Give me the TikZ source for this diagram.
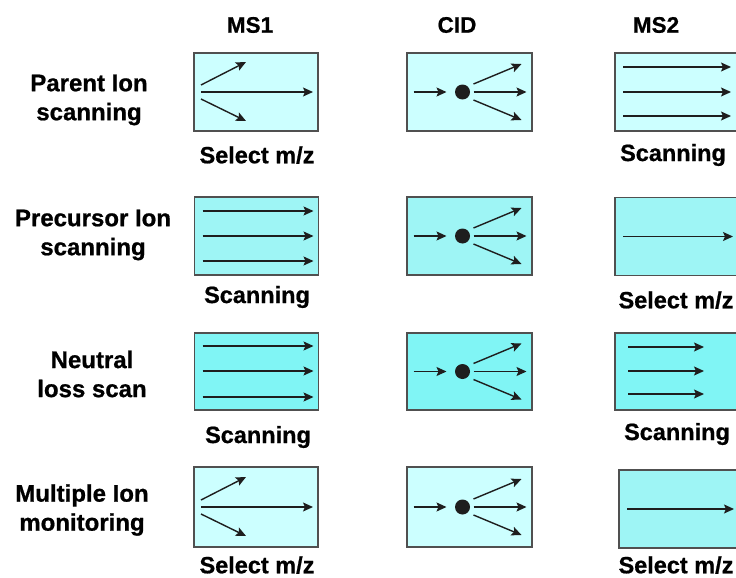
\documentclass[tikz,border=0pt]{standalone}
\usepackage{fontspec}
\setmainfont{Liberation Sans}
\newfontfamily\heavyfont{Liberation Sans Bold}[FakeBold=0.8]
\usetikzlibrary{arrows.meta}
\definecolor{cyanL}{RGB}{204,255,255}
\definecolor{cyanM}{RGB}{158,245,245}
\definecolor{cyanD}{RGB}{128,245,245}
\definecolor{edgegray}{RGB}{80,80,80}
\definecolor{ink}{RGB}{30,30,30}
\begin{document}
\begin{tikzpicture}[x=1pt,y=-1pt,
  panel/.style={draw=edgegray,line width=1.5pt,inner sep=0pt,minimum width=124pt,minimum height=78pt},
  ray/.style={draw=ink,line width=1.4pt,-{Stealth[length=10pt,width=9pt,inset=2pt]}},
  head/.style={font=\heavyfont\fontsize{22.5}{24}\selectfont},
  rowlab/.style={font=\heavyfont\fontsize{24}{29}\selectfont,align=center},
  sublab/.style={font=\heavyfont\fontsize{23.5}{26}\selectfont},
  fanpic/.pic={
    \draw[ray] (-55,-7) -- (-10,-30);
    \draw[ray] (-55,0) -- (57,0);
    \draw[ray] (-55,7) -- (-10,29);},
  cidpic/.pic={
    \draw[ray] (-56,0) -- (-23,0);
    \fill[ink] (-7,0) circle (7.5);
    \draw[ray] (4,-8) -- (52,-28);
    \draw[ray] (4,0) -- (57,0);
    \draw[ray] (4,8) -- (52,28);}
]
\useasboundingbox (0,0) rectangle (736,578);
\clip (0,0) rectangle (736,578);
\fill[white] (0,0) rectangle (736,578);

% headers
\node[head] (hms1) at (250,25) {MS1};
\node[head] (hcid) at (457,25) {CID};
\node[head] (hms2) at (656,25) {MS2};

% row labels
\node[rowlab] (l1) at (89,100) {Parent Ion\\scanning};
\node[rowlab] (l2) at (93,235) {Precursor Ion\\scanning};
\node[rowlab] (l3) at (92,374) {Neutral\\loss scan};
\node[rowlab] (l4) at (82,510) {Multiple Ion\\monitoring};

% row 1
\node[panel,fill=cyanL] (a1) at (256,92) {};
\node[panel,fill=cyanL,minimum width=125pt] (b1) at (469.5,92) {};
\node[panel,fill=cyanL,minimum width=130pt] (c1) at (680,92) {};
\pic at (a1) {fanpic};
\pic at (b1) {cidpic};
\begin{scope}[shift={(c1.center)}]
  \draw[ray] (-57,-25) -- (51,-25);
  \draw[ray] (-57,0) -- (51,0);
  \draw[ray] (-57,24) -- (51,24);
\end{scope}
\node[sublab] (s1a) at (257,155) {Select m/z};
\node[sublab] (s1c) at (673,155) {Scanning};

% row 2
\node[panel,fill=cyanM] (a2) at (256.5,236) {};
\node[panel,fill=cyanM,minimum width=125pt] (b2) at (469.5,236) {};
\node[panel,fill=cyanM,minimum width=130pt] (c2) at (680,236.5) {};
\begin{scope}[shift={(a2.center)}]
  \draw[ray] (-54,-25) -- (57,-25);
  \draw[ray] (-54,0) -- (57,0);
  \draw[ray] (-54,25) -- (57,25);
\end{scope}
\pic at (b2) {cidpic};
\begin{scope}[shift={(c2.center)}]
  \draw[ray] (-57,0) -- (53,0);
\end{scope}
\node[sublab] (s2c) at (676,300) {Select m/z};
\node[sublab] (s2a) at (257,297) {Scanning};

% row 3
\node[panel,fill=cyanD,minimum height=77pt] (a3) at (256.5,371.5) {};
\node[panel,fill=cyanD,minimum width=125pt,minimum height=77pt] (b3) at (469.5,371.5) {};
\node[panel,fill=cyanD,minimum width=130pt,minimum height=77pt] (c3) at (680,371.5) {};
\begin{scope}[shift={(a3.center)}]
  \draw[ray] (-54,-25.5) -- (57,-25.5);
  \draw[ray] (-54,-0.5) -- (57,-0.5);
  \draw[ray] (-54,25.5) -- (57,25.5);
\end{scope}
\pic at (b3) {cidpic};
\begin{scope}[shift={(c3.center)}]
  \draw[ray] (-52,-24.5) -- (24,-24.5);
  \draw[ray] (-52,-0.5) -- (24,-0.5);
  \draw[ray] (-52,22.5) -- (24,22.5);
\end{scope}
\node[sublab] (s3a) at (258,437) {Scanning};
\node[sublab] (s3c) at (677,434) {Scanning};

% row 4
\node[panel,fill=cyanL,minimum height=80pt] (a4) at (256,507) {};
\node[panel,fill=cyanL,minimum width=125pt,minimum height=80pt] (b4) at (469.5,507) {};
\node[panel,fill=cyanM,minimum width=126pt,minimum height=78pt] (c4) at (682,509) {};
\pic at (a4) {fanpic};
\pic at (b4) {cidpic};
\begin{scope}[shift={(c4.center)}]
  \draw[ray] (-55,0) -- (52,0);
\end{scope}
\node[sublab] (s4a) at (257,565) {Select m/z};
\node[sublab] (s4c) at (676,565) {Select m/z};
\end{tikzpicture}
\end{document}
